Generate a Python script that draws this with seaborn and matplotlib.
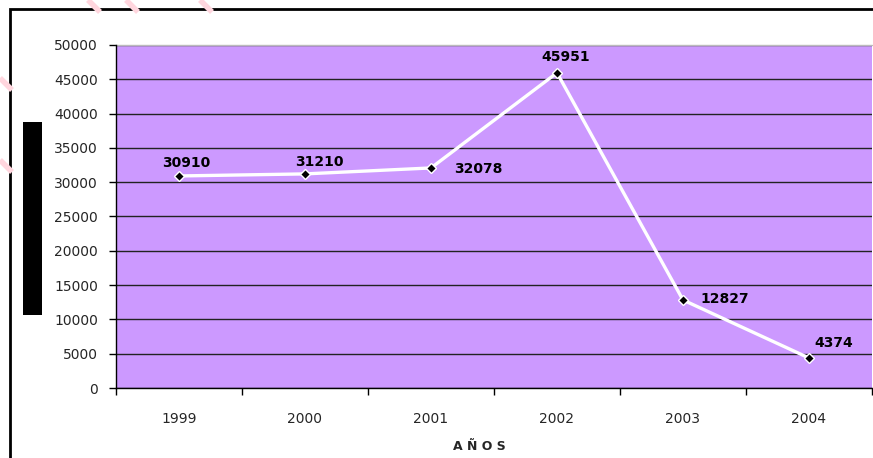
import numpy as np
import pandas as pd
import matplotlib
matplotlib.use('Agg')
import matplotlib.pyplot as plt
from matplotlib.patches import Rectangle
from matplotlib.lines import Line2D
from matplotlib.ticker import FixedLocator
import seaborn as sns

# datos del grafico
years = ['1999', '2000', '2001', '2002', '2003', '2004']
values = [30910, 31210, 32078, 45951, 12827, 4374]
# desplazamiento de cada etiqueta (puntos) respecto al marcador
label_dx = [5, 10, 34, 6, 30, 18]
label_dy = [9.4, 8.6, -1, 11, 0.7, 11]

data = pd.DataFrame({'year': years, 'value': values})

sns.set_style('white')
plt.rcParams['font.family'] = ['DejaVu Sans']

W, H = 873, 458
fig = plt.figure(figsize=(W / 100, H / 100), dpi=100)
ax = fig.add_axes([116 / W, 1 - 388 / H, 756 / W, 343 / H])
ax.set_facecolor('#CC99FF')

sns.lineplot(data=data, x='year', y='value', ax=ax, color='white', linewidth=2.4,
             marker='D', markersize=5.5, markerfacecolor='black',
             markeredgecolor='white', markeredgewidth=1, zorder=5)

for i, v in enumerate(values):
    ax.annotate(str(v), (i, v), xytext=(label_dx[i], label_dy[i]),
                textcoords='offset points', ha='center', va='center',
                fontsize=10, fontweight='bold', color='black', zorder=6)

ax.set_xlim(-0.5, len(years) - 0.5)
ax.set_ylim(0, 50000)
ax.set_yticks(np.arange(0, 50001, 5000))
ax.yaxis.grid(True, color='#222222', linewidth=1)
ax.set_axisbelow(True)

ax.set_xticks(range(len(years)))
ax.set_xticklabels(years)
ax.xaxis.set_minor_locator(FixedLocator(np.arange(-0.5, len(years), 1)))
ax.tick_params(axis='x', which='major', length=0, pad=17, labelsize=10)
ax.tick_params(axis='x', which='minor', bottom=True, length=5, width=1, color='black', direction='out')
ax.tick_params(axis='y', left=True, length=5, width=1, color='black', direction='out', pad=8, labelsize=10)
ax.set_xlabel('')
ax.set_ylabel('')

for side in ['top', 'right']:
    ax.spines[side].set_visible(False)
ax.spines['left'].set_color('black')
ax.spines['bottom'].set_color('black')
ax.spines['left'].set_linewidth(1)
ax.spines['bottom'].set_linewidth(1)
ax.plot([0, 1], [1, 1], transform=ax.transAxes, color='#BBBBBB', linewidth=1, clip_on=False)

# titulo del eje x
fig.text(479 / W, 1 - 447 / H, 'A Ñ O S', ha='center', va='center',
         fontsize=9, fontweight='bold')

# marco exterior del grafico
fig.add_artist(Rectangle((10 / W, -0.2), 1.2, 1.2 - 9 / H, transform=fig.transFigure,
                         fill=False, edgecolor='black', linewidth=2, clip_on=False))
# etiqueta del eje y tapada
fig.add_artist(Rectangle((23 / W, 1 - 315 / H), 19 / W, 193 / H, transform=fig.transFigure,
                         facecolor='black', edgecolor='none'))

# marca de agua rosa
for x0, y0 in [(0, 78), (0, 160), (88, 0), (126, 0), (200, 0)]:
    fig.add_artist(Line2D([x0 / W, (x0 + 12) / W], [1 - y0 / H, 1 - (y0 + 12) / H],
                          transform=fig.transFigure, color='#FFD6DE', linewidth=4,
                          solid_capstyle='butt'))

fig.savefig('out.png', dpi=100)
